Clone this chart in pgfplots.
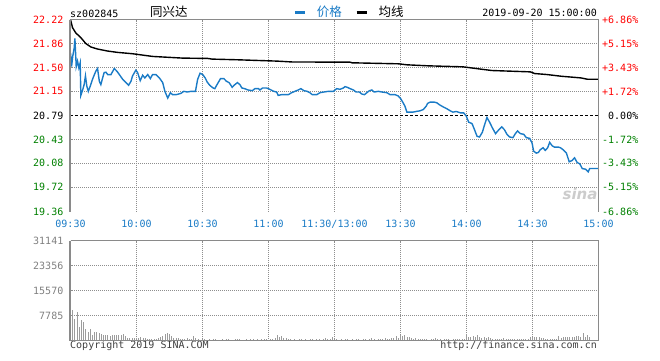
\documentclass[border=0pt]{standalone}
\usepackage{pgfplots}
\pgfplotsset{compat=1.18}
\usepackage{fontspec}
\setmainfont{DejaVu Sans Mono}
\newfontfamily\cjk{Noto Sans CJK SC}
\newfontfamily\sinafont{DejaVu Sans}
\definecolor{sinablue}{HTML}{1A7BC6}
\definecolor{upred}{HTML}{FF0000}
\definecolor{dngreen}{HTML}{008000}
\definecolor{volgray}{HTML}{9C9C9C}
\definecolor{vollabel}{HTML}{808080}
\definecolor{gridgray}{HTML}{8E8E8E}
\definecolor{framegray}{HTML}{8A8A8A}
\newcommand{\lblR}[1]{\hbox{\fontsize{10}{12}\selectfont\color{upred}#1}}
\newcommand{\lblG}[1]{\hbox{\fontsize{10}{12}\selectfont\color{dngreen}#1}}
\newcommand{\lblK}[1]{\hbox{\fontsize{10}{12}\selectfont\color{black}#1}}
\newcommand{\lblV}[1]{\hbox{\fontsize{10}{12}\selectfont\color{vollabel}#1}}
\pgfplotsset{
  sframe/.style={draw=framegray, line width=1.3pt, mark=none, forget plot},
  sleft/.style={draw=framegray, line width=2pt, mark=none, forget plot},
}
\begin{document}
\begin{tikzpicture}[x=1pt,y=1pt]
\useasboundingbox (0,0) rectangle (660,360);
% header and footer texts
\node[anchor=base west, inner sep=0pt] at (70,342.7) {\fontsize{10}{12}\selectfont sz002845};
\node[anchor=base west, inner sep=0pt] at (150,343.2) {\cjk\fontsize{12.5}{14}\selectfont 同兴达};
\node[anchor=base east, inner sep=0pt] at (597,343.3) {\fontsize{10}{12}\selectfont 2019-09-20 15:00:00};
\node[anchor=base west, inner sep=0pt, text=black!75] at (70,11.5) {\fontsize{10}{12}\selectfont Copyright 2019 SINA.COM};
\node[anchor=base east, inner sep=0pt, text=black!75] at (597,11.5) {\fontsize{10}{12}\selectfont http://finance.sina.com.cn};
\node[inner sep=0pt, text=gray!40] at (580,166) {\sinafont\bfseries\itshape\fontsize{15}{15}\selectfont sina};

% ---------------- price panel ----------------
\begin{axis}[
  at={(70.5pt,148.5pt)}, anchor=south west,
  scale only axis, width=528pt, height=192pt,
  xmin=0, xmax=240, ymin=19.36, ymax=22.22,
  clip=false,
  axis line style={draw=none},
  major tick length=0pt,
  scaled y ticks=false,
  xmajorgrids, ymajorgrids,
  major grid style={draw=gridgray, line width=1.1pt, dash pattern=on 1pt off 1pt, dash phase=0.5pt},
  xtick={0,30,60,90,120,150,180,210,240},
  xticklabels={09:30,10:00,10:30,11:00,11:30/13:00,13:30,14:00,14:30,15:00},
  xticklabel style={anchor=north, inner sep=0pt, yshift=-8pt, text=sinablue, font=\fontsize{10}{12}\selectfont},
  ytick={19.72,20.08,20.43,20.79,21.15,21.50,21.86,22.22},
  yticklabels={\lblG{19.72},\lblG{20.08},\lblG{20.43},\lblK{20.79},\lblR{21.15},\lblR{21.50},\lblR{21.86},\lblR{22.22}},
  extra y ticks={19.36},
  extra y tick labels={\lblG{19.36}},
  extra y tick style={ymajorgrids=false},
  yticklabel style={anchor=east, inner sep=0pt, xshift=-7pt},
  legend columns=2,
  legend style={at={(0.5265,1.0375)}, anchor=center, draw=none, fill=none, inner sep=0pt,
    nodes={inner sep=0pt},
    /tikz/every odd column/.append style={column sep=10pt},
    /tikz/every even column/.append style={column sep=13pt}},
  legend image code/.code={\draw[#1, line width=3pt] (0pt,0pt) -- (10.5pt,0pt);},
]
\addplot[draw=white, line width=1.2pt, mark=none, forget plot] coordinates {(0,20.79)(240,20.79)};
\addplot[draw=black, line width=1pt, dash pattern=on 3pt off 2pt, dash phase=0.5pt, mark=none, forget plot] coordinates {(0,20.79)(240,20.79)};

% price line
\addplot[sinablue, line width=1.4pt, mark=none] coordinates {
(0,21.72)(0.5,21.52)(1,21.67)(1.7,21.80)(2,21.94)(2.6,21.52)(3.2,21.60)(3.8,21.50)(4.4,21.575)(4.7,21.09)
(5.6,21.18)(6.2,21.25)(6.8,21.38)(7.4,21.23)(8.1,21.15)(9,21.23)(10,21.33)(11.5,21.45)(12.3,21.49)(13.1,21.30)
(13.8,21.25)(14.6,21.35)(15.3,21.43)(16.1,21.435)(16.9,21.40)(18.4,21.40)(19.9,21.49)(21.1,21.45)(22.2,21.40)(23.7,21.33)
(25.2,21.28)(26.4,21.24)(27.5,21.30)(28.2,21.38)(29.7,21.465)(30.5,21.43)(31.7,21.31)(32.8,21.39)(33.8,21.35)(35.1,21.40)
(36.3,21.34)(37.3,21.40)(38.8,21.40)(40.4,21.35)(41.9,21.28)(42.9,21.15)(44.2,21.05)(45.4,21.13)(46.4,21.10)(48,21.10)
(50.2,21.12)(51.5,21.15)(53,21.14)(54.8,21.15)(56.8,21.15)(57.8,21.33)(58.9,21.42)(60.1,21.40)(61.2,21.35)(62.1,21.29)
(63.3,21.24)(64.8,21.20)(65.6,21.19)(66.6,21.25)(68.2,21.34)(69.7,21.34)(70.9,21.30)(72.1,21.28)(73.5,21.21)(74.7,21.25)
(75.9,21.28)(77,21.25)(77.9,21.20)(79.2,21.19)(80.7,21.17)(82.7,21.16)(83.8,21.19)(85.5,21.19)(86.1,21.17)(87.3,21.20)
(89.1,21.20)(90.6,21.18)(92.4,21.15)(93.7,21.14)(94.4,21.09)(95.9,21.10)(99,21.10)(100.5,21.13)(102,21.15)(103.5,21.17)
(104.7,21.19)(106.1,21.16)(107.6,21.15)(108.8,21.13)(109.9,21.10)(111.9,21.10)(113.4,21.13)(115.2,21.14)(117.2,21.15)(119.5,21.15)
(121,21.19)(122.5,21.18)(124,21.20)(124.8,21.22)(125.8,21.21)(127.1,21.19)(128.6,21.17)(129.8,21.14)(131.3,21.14)(132.4,21.11)
(133.6,21.10)(134.7,21.13)(135.9,21.16)(137,21.17)(138,21.14)(140,21.15)(141.5,21.14)(143.8,21.13)(145.3,21.10)(147.6,21.10)
(149,21.08)(150.1,21.04)(151,20.99)(152,20.93)(152.9,20.84)(155.6,20.84)(157.1,20.85)(158.9,20.86)(160.4,20.88)(161.7,20.93)
(162.3,20.97)(163.5,20.99)(165.3,20.99)(166.5,20.98)(167.7,20.95)(169.3,20.92)(171.1,20.89)(172.6,20.86)(173.8,20.84)(175.3,20.85)
(177.2,20.83)(178.7,20.83)(179.9,20.78)(181,20.69)(182.5,20.67)(183.5,20.59)(184.8,20.48)(185.9,20.47)(187.2,20.54)(188.1,20.64)
(189.3,20.76)(190.5,20.69)(191.7,20.61)(193.2,20.52)(194.5,20.57)(196,20.62)(197.2,20.58)(198.4,20.51)(199.6,20.47)(201.1,20.46)
(202.2,20.52)(203.2,20.56)(204.5,20.52)(206,20.51)(207.2,20.46)(208.7,20.45)(209.8,20.38)(210.5,20.26)(211.7,20.23)(212.7,20.24)
(213.5,20.28)(214.8,20.31)(215.8,20.27)(216.9,20.31)(217.8,20.39)(218.9,20.34)(219.9,20.32)(221.7,20.32)(222.7,20.31)(223.9,20.28)
(225.4,20.23)(226.7,20.10)(228,20.12)(229.1,20.16)(230.3,20.09)(231.5,20.07)(232.6,20.00)(234.1,19.99)(235.3,19.95)(236,20.00)
(240,20.00)
};
\addlegendentry{\cjk\fontsize{12.5}{14}\selectfont\color{sinablue}价格}
% average line
\addplot[black, line width=1.4pt, mark=none] coordinates {
(0,22.22)(0.9,22.10)(2.4,22.02)(4.7,21.95)(7,21.86)(9.3,21.81)(12.3,21.78)(16.9,21.75)(21.4,21.73)(28.2,21.71)
(37.3,21.67)(42.7,21.66)(51,21.645)(62.4,21.64)(64.4,21.63)(76,21.62)(94,21.60)(101,21.587)(127,21.585)(128,21.575)
(149,21.56)(153,21.545)(162.6,21.53)(178.4,21.515)(185.5,21.485)(191.6,21.46)(209,21.44)(211,21.415)(216.6,21.40)(223,21.375)
(232,21.35)(235,21.33)(240,21.33)
};
\addlegendentry{\cjk\fontsize{12.5}{14}\selectfont\color{black}均线}
% frame (no bottom line)
\addplot[sframe] coordinates {(0,22.22)(240,22.22)(240,19.36)};
\addplot[sleft] coordinates {(-0.2273,19.36)(-0.2273,22.22)};
\end{axis}

% right percentage labels
\begin{axis}[
  at={(70.5pt,148.5pt)}, anchor=south west,
  scale only axis, width=528pt, height=192pt,
  xmin=0, xmax=240, ymin=19.36, ymax=22.22,
  hide x axis, axis y line*=right,
  axis line style={draw=none},
  major tick length=0pt,
  scaled y ticks=false,
  ytick={19.36,19.72,20.08,20.43,20.79,21.15,21.50,21.86,22.22},
  yticklabels={\lblG{-6.86\%},\lblG{-5.15\%},\lblG{-3.43\%},\lblG{-1.72\%},\lblK{0.00\%},\lblR{+1.72\%},\lblR{+3.43\%},\lblR{+5.15\%},\lblR{+6.86\%}},
  yticklabel style={anchor=east, inner sep=0pt, xshift=40pt},
]
\addplot[draw=none] coordinates {(0,20)};
\end{axis}

% ---------------- volume panel ----------------
\begin{axis}[
  at={(70.5pt,19.5pt)}, anchor=south west,
  scale only axis, width=528pt, height=100pt,
  xmin=0, xmax=240, ymin=0, ymax=31141,
  clip=false,
  axis line style={draw=none},
  major tick length=0pt,
  scaled y ticks=false,
  xmajorgrids, ymajorgrids,
  major grid style={draw=gridgray, line width=1.1pt, dash pattern=on 1pt off 1pt, dash phase=0.5pt},
  xtick={30,60,90,120,150,180,210},
  xticklabels={},
  ytick={7785,15570,23356,31141},
  yticklabels={\lblV{7785},\lblV{15570},\lblV{23356},\lblV{31141}},
  yticklabel style={anchor=east, inner sep=0pt, xshift=-7pt},
]
\addplot[ycomb, draw=volgray, line width=1pt, mark=none] coordinates {
(1,9650)(2,6750)(3,9030)(4,4150)(5,6440)(6,5710)(7,3630)(8,2800)(9,3430)(10,1760)
(11,2800)(12,2800)(13,2280)(14,2080)(15,1560)(16,1560)(17,1560)(18,1350)(19,1560)(20,1560)
(21,1560)(22,1560)(23,1560)(24,2180)(25,1250)(26,730)(27,930)(28,930)(29,830)(30,930)
(31,930)(32,1040)(33,830)(34,730)(35,520)(36,520)(37,620)(38,520)(39,520)(40,730)
(41,1140)(42,1450)(43,1970)(44,2490)(45,1970)(46,1350)(47,930)(48,830)(49,730)(50,520)
(51,620)(52,420)(53,830)(54,520)(55,420)(56,1250)(57,930)(58,420)(59,310)(60,420)
(61,520)(62,310)(63,420)(64,310)(65,420)(66,520)(67,310)(68,310)(69,420)(70,310)
(71,520)(72,420)(73,310)(74,310)(75,420)(76,520)(77,420)(78,310)(79,310)(80,420)
(81,310)(82,520)(83,420)(84,310)(85,420)(86,310)(87,520)(88,620)(89,420)(90,310)
(91,420)(92,520)(93,830)(94,1870)(95,1040)(96,1250)(97,830)(98,730)(99,420)(100,420)
(101,310)(102,420)(103,310)(104,520)(105,420)(106,310)(107,420)(108,310)(109,520)(110,420)
(111,310)(112,420)(113,520)(114,310)(115,420)(116,730)(117,520)(118,420)(119,940)(120,620)
(121,420)(122,310)(123,420)(124,310)(125,520)(126,420)(127,310)(128,420)(129,310)(130,520)
(131,420)(132,310)(133,420)(134,520)(135,310)(136,420)(137,730)(138,420)(139,310)(140,420)
(141,520)(142,420)(143,730)(144,520)(145,620)(146,730)(147,830)(148,1250)(149,730)(150,1560)
(151,1250)(152,1560)(153,1040)(154,940)(155,830)(156,620)(157,730)(158,520)(159,620)(160,520)
(161,420)(162,520)(163,310)(164,420)(165,520)(166,830)(167,520)(168,420)(169,310)(170,420)
(171,520)(172,420)(173,310)(174,420)(175,520)(176,420)(177,620)(178,420)(179,520)(180,1970)
(181,940)(182,1040)(183,1250)(184,940)(185,1560)(186,1040)(187,830)(188,940)(189,730)(190,1040)
(191,730)(192,620)(193,620)(194,520)(195,620)(196,620)(197,830)(198,620)(199,520)(200,520)
(201,620)(202,520)(203,420)(204,520)(205,620)(206,520)(207,420)(208,620)(209,940)(210,940)
(211,1040)(212,1040)(213,940)(214,730)(215,830)(216,620)(217,620)(218,620)(219,620)(220,520)
(221,620)(222,1250)(223,830)(224,940)(225,940)(226,940)(227,1040)(228,940)(229,1140)(230,1250)
(231,1450)(232,1040)(233,2280)(234,1040)(235,1560)(236,1140)
};
\addplot[sframe] coordinates {(0,31141)(240,31141)(240,0)(0,0)};
\addplot[sleft] coordinates {(-0.2273,0)(-0.2273,31141)};
\end{axis}
\end{tikzpicture}
\end{document}
